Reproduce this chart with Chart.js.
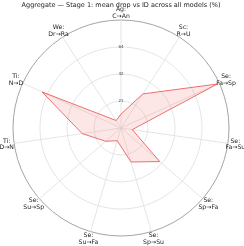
<!DOCTYPE html>
<html>
<head>
<meta charset="utf-8">
<script src="https://cdn.jsdelivr.net/npm/chart.js@4"></script>
<style>
  html, body { margin: 0; padding: 0; background: #fff; }
  canvas { display: block; }
</style>
</head>
<body>
<canvas id="radar" width="244" height="246"></canvas>
<script>
// categories (two-line labels, as drawn around the circle)
const CATEGORIES = [
    ["Ag:", "C→An"],
    ["Sc:", "R→U"],
    ["Se:", "Fa→Sp"],
    ["Se:", "Fa→Su"],
    ["Se:", "Sp→Fa"],
    ["Se:", "Sp→Su"],
    ["Se:", "Su→Fa"],
    ["Se:", "Su→Sp"],
    ["Ti:", "D→N"],
    ["Ti:", "N→D"],
    ["We:", "Dr→Ra"]
];
// mean drop vs ID (%)
const MEAN_DROP = [11, 32, 83.6, 9, 40.5, 28, 10.5, 16, 31, 68.5, 7];
const R_MAX = 85.3;
const TICK_VALUES = [21.3, 42.7, 64.0];
const TICK_LABELS = ["21", "42", "64"];

const FONT = "'DejaVu Sans', sans-serif";

// category labels around the outer circle, centred on each spoke
const outerLabels = {
    id: "outerLabels",
    afterDraw(chart) {
        const scale = chart.scales.r;
        const ctx = chart.ctx;
        ctx.save();
        ctx.font = `6.2px ${FONT}`;
        ctx.fillStyle = "#222";
        ctx.textAlign = "center";
        ctx.textBaseline = "middle";
        CATEGORIES.forEach((lines, i) => {
            const p = scale.getPointPosition(i, scale.drawingArea + 7.5);
            ctx.fillText(lines[0], p.x, p.y - 3.4);
            ctx.fillText(lines[1], p.x, p.y + 3.4);
        });
        ctx.restore();
    }
};

new Chart(document.getElementById("radar"), {
    type: "radar",
    data: {
        labels: CATEGORIES,
        datasets: [{
            data: MEAN_DROP,
            borderColor: "#ee6e6e",
            backgroundColor: "rgba(240,128,128,0.2)",
            borderWidth: 1,
            pointRadius: 0,
            fill: true,
            tension: 0
        }]
    },
    options: {
        responsive: false,
        animation: false,
        devicePixelRatio: 1,
        layout: { padding: { left: 11, right: 13, top: 0, bottom: 8 } },
        plugins: {
            legend: { display: false },
            tooltip: { enabled: false },
            title: {
                display: true,
                text: "Aggregate — Stage 1: mean drop vs ID across all models (%)",
                color: "#222",
                font: { family: FONT, size: 6.5, weight: "normal" },
                padding: { top: 1, bottom: 9.2 }
            }
        },
        scales: {
            r: {
                min: 0,
                max: R_MAX,
                startAngle: 0,
                afterBuildTicks(scale) {
                    scale.ticks = [0, ...TICK_VALUES, R_MAX].map(v => ({ value: v }));
                },
                ticks: {
                    font: { family: FONT, size: 4 },
                    color: "#444",
                    showLabelBackdrop: false,
                    backdropPadding: 0,
                    callback: (v, i) => TICK_LABELS[i - 1] || ""
                },
                grid: {
                    circular: true,
                    lineWidth: ctx => ctx.index === TICK_VALUES.length + 1 ? 0.9 : 0.8,
                    color: ctx => ctx.index === TICK_VALUES.length + 1 ? "#9a9a9a" : "#dedede"
                },
                angleLines: { color: "#dedede", lineWidth: 0.8 },
                pointLabels: { display: false }
            }
        }
    },
    plugins: [outerLabels]
});
</script>
</body>
</html>
